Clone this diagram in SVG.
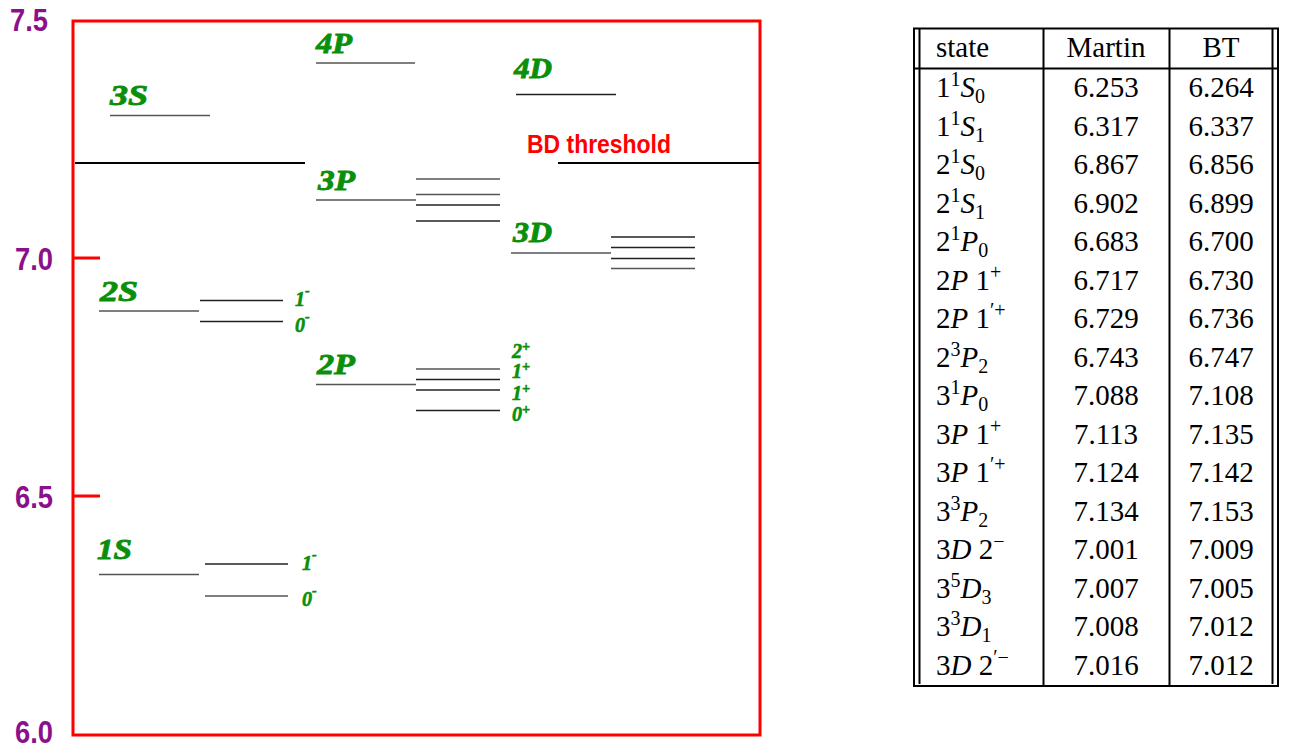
<svg xmlns="http://www.w3.org/2000/svg" width="1293" height="755" viewBox="0 0 1293 755">
  <style>
    .axis { font-family: "Liberation Sans", Arial, sans-serif; font-weight: bold; font-size: 31px; fill: #8b108b; }
    .frame { fill: none; stroke: #ff0000; stroke-width: 3; }
    .tick { stroke: #ff0000; stroke-width: 3; }
    .lvl { stroke: #555; stroke-width: 1.4; }
    .sub { stroke: #222; stroke-width: 1.3; }
    .thr { stroke: #000; stroke-width: 1.8; }
    .name { font-family: "Liberation Serif", "Times New Roman", serif; font-weight: bold; font-style: italic; font-size: 29px; fill: #0a8f0a; stroke: #0a8f0a; stroke-width: 0.9; }
    .jp { font-family: "Liberation Serif", "Times New Roman", serif; font-weight: bold; font-style: italic; font-size: 20px; fill: #0a8f0a; stroke: #0a8f0a; stroke-width: 0.6; }
    .bd { font-family: "Liberation Sans", Arial, sans-serif; font-weight: bold; font-size: 26px; fill: #ff0000; }
    .tb { font-family: "Liberation Serif", "Times New Roman", serif; font-size: 29px; fill: #000; }
    .it { font-style: italic; }
    .rule { stroke: #000; stroke-width: 2; fill: none; }
  </style>

  <!-- energy axis -->
  <g id="axis">
    <rect class="frame" x="73" y="21" width="687" height="714"/>
    <line class="tick" x1="73" y1="258" x2="100" y2="258"/>
    <line class="tick" x1="73" y1="496" x2="100" y2="496"/>
    <text class="axis" x="10" y="31" textLength="38" lengthAdjust="spacingAndGlyphs">7.5</text>
    <text class="axis" x="15" y="270" textLength="38" lengthAdjust="spacingAndGlyphs">7.0</text>
    <text class="axis" x="15" y="508" textLength="38" lengthAdjust="spacingAndGlyphs">6.5</text>
    <text class="axis" x="15" y="743" textLength="38" lengthAdjust="spacingAndGlyphs">6.0</text>
  </g>

  <!-- BD threshold -->
  <g id="threshold">
    <line class="thr" x1="75" y1="163" x2="305" y2="163"/>
    <line class="thr" x1="558" y1="163" x2="760" y2="163"/>
    <text class="bd" x="527" y="153" textLength="144" lengthAdjust="spacingAndGlyphs">BD threshold</text>
  </g>

  <!-- S-wave levels -->
  <g id="level-1S">
    <text class="name" x="97" y="559" textLength="35" lengthAdjust="spacingAndGlyphs">1S</text>
    <line class="lvl" x1="99" y1="574.5" x2="199" y2="574.5"/>
    <line class="sub" x1="205" y1="564" x2="288" y2="564"/>
    <line class="lvl" x1="205" y1="596" x2="288" y2="596"/>
    <text class="jp" x="302" y="570">1<tspan dy="-11" font-size="14">-</tspan></text>
    <text class="jp" x="302" y="606">0<tspan dy="-11" font-size="14">-</tspan></text>
  </g>

  <g id="level-2S">
    <text class="name" x="100" y="301" textLength="38" lengthAdjust="spacingAndGlyphs">2S</text>
    <line class="lvl" x1="99" y1="311" x2="199" y2="311"/>
    <line class="sub" x1="200" y1="300.5" x2="283" y2="300.5"/>
    <line class="sub" x1="200" y1="321.5" x2="283" y2="321.5"/>
    <text class="jp" x="295" y="306">1<tspan dy="-11" font-size="14">-</tspan></text>
    <text class="jp" x="295" y="332">0<tspan dy="-11" font-size="14">-</tspan></text>
  </g>

  <g id="level-3S">
    <text class="name" x="110" y="105" textLength="38" lengthAdjust="spacingAndGlyphs">3S</text>
    <line class="lvl" x1="110" y1="115.5" x2="210" y2="115.5"/>
  </g>

  <!-- P-wave levels -->
  <g id="level-2P">
    <text class="name" x="317" y="374" textLength="38" lengthAdjust="spacingAndGlyphs">2P</text>
    <line class="lvl" x1="316" y1="384.5" x2="416" y2="384.5"/>
    <line class="lvl" x1="416" y1="369" x2="500" y2="369"/>
    <line class="sub" x1="416" y1="379.5" x2="500" y2="379.5"/>
    <line class="sub" x1="416" y1="390" x2="500" y2="390"/>
    <line class="sub" x1="416" y1="410.5" x2="500" y2="410.5"/>
    <text class="jp" x="512" y="358" font-size="19">2<tspan dy="-7" font-size="14">+</tspan></text>
    <text class="jp" x="512" y="378" font-size="19">1<tspan dy="-7" font-size="14">+</tspan></text>
    <text class="jp" x="512" y="400" font-size="19">1<tspan dy="-7" font-size="14">+</tspan></text>
    <text class="jp" x="512" y="421" font-size="19">0<tspan dy="-7" font-size="14">+</tspan></text>
  </g>

  <g id="level-3P">
    <text class="name" x="318" y="190" textLength="37" lengthAdjust="spacingAndGlyphs">3P</text>
    <line class="lvl" x1="316" y1="200" x2="416" y2="200"/>
    <line class="lvl" x1="416" y1="179" x2="500" y2="179"/>
    <line class="lvl" x1="416" y1="194.5" x2="500" y2="194.5"/>
    <line class="sub" x1="416" y1="205" x2="500" y2="205"/>
    <line class="sub" x1="416" y1="221" x2="500" y2="221"/>
  </g>

  <g id="level-4P">
    <text class="name" x="316" y="53" textLength="36" lengthAdjust="spacingAndGlyphs">4P</text>
    <line class="lvl" x1="316" y1="63" x2="415" y2="63"/>
  </g>

  <!-- D-wave levels -->
  <g id="level-3D">
    <text class="name" x="513" y="242" textLength="39" lengthAdjust="spacingAndGlyphs">3D</text>
    <line class="lvl" x1="511" y1="253" x2="611" y2="253"/>
    <line class="sub" x1="611" y1="237" x2="695" y2="237"/>
    <line class="sub" x1="611" y1="247.5" x2="695" y2="247.5"/>
    <line class="sub" x1="611" y1="258.5" x2="695" y2="258.5"/>
    <line class="lvl" x1="611" y1="268.5" x2="695" y2="268.5"/>
  </g>

  <g id="level-4D">
    <text class="name" x="514" y="78" textLength="38" lengthAdjust="spacingAndGlyphs">4D</text>
    <line class="sub" x1="516" y1="94.5" x2="616" y2="94.5"/>
  </g>

  <!-- mass table -->
  <g id="table">
    <line class="rule" x1="913" y1="28.5" x2="1279" y2="28.5"/>
    <line class="rule" x1="913" y1="68.5" x2="1279" y2="68.5"/>
    <line class="rule" x1="913" y1="686" x2="1279" y2="686"/>
    <line class="rule" x1="914" y1="28" x2="914" y2="687"/>
    <line class="rule" x1="919.5" y1="28" x2="919.5" y2="684"/>
    <line class="rule" x1="1043.5" y1="28" x2="1043.5" y2="686"/>
    <line class="rule" x1="1169.5" y1="28" x2="1169.5" y2="686"/>
    <line class="rule" x1="1272.5" y1="28" x2="1272.5" y2="684"/>
    <line class="rule" x1="1278" y1="28" x2="1278" y2="687"/>

    <text class="tb" x="936" y="57">state</text>
    <text class="tb" x="1106" y="57" text-anchor="middle">Martin</text>
    <text class="tb" x="1221" y="57" text-anchor="middle">BT</text>

    <g class="tb">
      <text x="936" y="97">1<tspan dy="-11" font-size="20">1</tspan><tspan class="it" dy="11">S</tspan><tspan dy="6" font-size="20">0</tspan></text>
      <text x="936" y="135.5">1<tspan dy="-11" font-size="20">1</tspan><tspan class="it" dy="11">S</tspan><tspan dy="6" font-size="20">1</tspan></text>
      <text x="936" y="174">2<tspan dy="-11" font-size="20">1</tspan><tspan class="it" dy="11">S</tspan><tspan dy="6" font-size="20">0</tspan></text>
      <text x="936" y="212.5">2<tspan dy="-11" font-size="20">1</tspan><tspan class="it" dy="11">S</tspan><tspan dy="6" font-size="20">1</tspan></text>
      <text x="936" y="251">2<tspan dy="-11" font-size="20">1</tspan><tspan class="it" dy="11">P</tspan><tspan dy="6" font-size="20">0</tspan></text>
      <text x="936" y="289.5">2<tspan class="it">P</tspan> 1<tspan dy="-11" font-size="20">+</tspan></text>
      <text x="936" y="328">2<tspan class="it">P</tspan> 1<tspan dy="-11" font-size="20">′+</tspan></text>
      <text x="936" y="366.5">2<tspan dy="-11" font-size="20">3</tspan><tspan class="it" dy="11">P</tspan><tspan dy="6" font-size="20">2</tspan></text>
      <text x="936" y="405">3<tspan dy="-11" font-size="20">1</tspan><tspan class="it" dy="11">P</tspan><tspan dy="6" font-size="20">0</tspan></text>
      <text x="936" y="443.5">3<tspan class="it">P</tspan> 1<tspan dy="-11" font-size="20">+</tspan></text>
      <text x="936" y="482">3<tspan class="it">P</tspan> 1<tspan dy="-11" font-size="20">′+</tspan></text>
      <text x="936" y="520.5">3<tspan dy="-11" font-size="20">3</tspan><tspan class="it" dy="11">P</tspan><tspan dy="6" font-size="20">2</tspan></text>
      <text x="936" y="559">3<tspan class="it">D</tspan> 2<tspan dy="-11" font-size="20">−</tspan></text>
      <text x="936" y="597.5">3<tspan dy="-11" font-size="20">5</tspan><tspan class="it" dy="11">D</tspan><tspan dy="6" font-size="20">3</tspan></text>
      <text x="936" y="636">3<tspan dy="-11" font-size="20">3</tspan><tspan class="it" dy="11">D</tspan><tspan dy="6" font-size="20">1</tspan></text>
      <text x="936" y="674.5">3<tspan class="it">D</tspan> 2<tspan dy="-11" font-size="20">′−</tspan></text>
    </g>

    <g class="tb" text-anchor="middle">
      <text x="1106" y="97">6.253</text>
      <text x="1106" y="135.5">6.317</text>
      <text x="1106" y="174">6.867</text>
      <text x="1106" y="212.5">6.902</text>
      <text x="1106" y="251">6.683</text>
      <text x="1106" y="289.5">6.717</text>
      <text x="1106" y="328">6.729</text>
      <text x="1106" y="366.5">6.743</text>
      <text x="1106" y="405">7.088</text>
      <text x="1106" y="443.5">7.113</text>
      <text x="1106" y="482">7.124</text>
      <text x="1106" y="520.5">7.134</text>
      <text x="1106" y="559">7.001</text>
      <text x="1106" y="597.5">7.007</text>
      <text x="1106" y="636">7.008</text>
      <text x="1106" y="674.5">7.016</text>

      <text x="1221" y="97">6.264</text>
      <text x="1221" y="135.5">6.337</text>
      <text x="1221" y="174">6.856</text>
      <text x="1221" y="212.5">6.899</text>
      <text x="1221" y="251">6.700</text>
      <text x="1221" y="289.5">6.730</text>
      <text x="1221" y="328">6.736</text>
      <text x="1221" y="366.5">6.747</text>
      <text x="1221" y="405">7.108</text>
      <text x="1221" y="443.5">7.135</text>
      <text x="1221" y="482">7.142</text>
      <text x="1221" y="520.5">7.153</text>
      <text x="1221" y="559">7.009</text>
      <text x="1221" y="597.5">7.005</text>
      <text x="1221" y="636">7.012</text>
      <text x="1221" y="674.5">7.012</text>
    </g>
  </g>
</svg>
